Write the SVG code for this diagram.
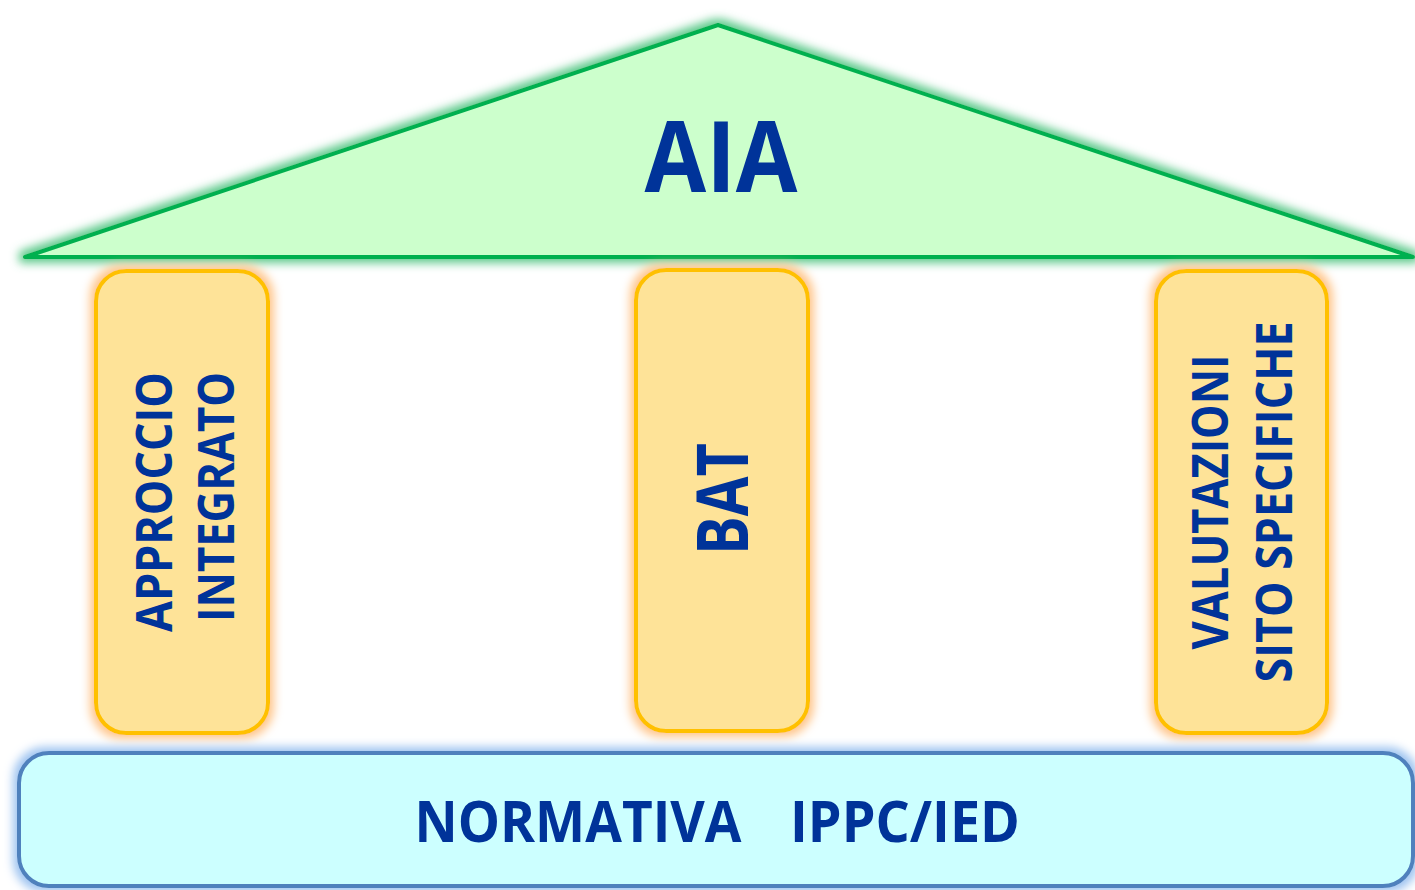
<svg xmlns="http://www.w3.org/2000/svg" width="1415" height="890" viewBox="0 0 1415 890">
<defs>
<filter id="glowG" x="-10%" y="-20%" width="120%" height="140%">
<feMorphology in="SourceAlpha" operator="dilate" radius="4" result="d"/>
<feGaussianBlur in="d" stdDeviation="5" result="b"/>
<feFlood flood-color="#5CC98A" flood-opacity="1"/>
<feComposite in2="b" operator="in" result="g"/>
<feMerge><feMergeNode in="g"/><feMergeNode in="SourceGraphic"/></feMerge>
</filter>
<filter id="glowO" x="-20%" y="-10%" width="140%" height="120%">
<feMorphology in="SourceAlpha" operator="dilate" radius="4" result="d"/>
<feGaussianBlur in="d" stdDeviation="5" result="b"/>
<feFlood flood-color="#FFC58A" flood-opacity="1"/>
<feComposite in2="b" operator="in" result="g"/>
<feMerge><feMergeNode in="g"/><feMergeNode in="SourceGraphic"/></feMerge>
</filter>
<filter id="glowB" x="-5%" y="-20%" width="110%" height="140%">
<feMorphology in="SourceAlpha" operator="dilate" radius="4" result="d"/>
<feGaussianBlur in="d" stdDeviation="5" result="b"/>
<feFlood flood-color="#9DC3F0" flood-opacity="1"/>
<feComposite in2="b" operator="in" result="g"/>
<feMerge><feMergeNode in="g"/><feMergeNode in="SourceGraphic"/></feMerge>
</filter>
</defs>
<style>
.t{font-family:"Open Sans","Liberation Sans",sans-serif;font-weight:bold;fill:#003399;text-anchor:middle}
.pillar{fill:#FEE398;stroke:#FFC000;stroke-width:4}
</style>
<rect width="1415" height="890" fill="#FFFFFF"/>
<g id="roof">
<polygon points="718,25 25,257 1413,257" fill="#CCFFCC" stroke="#00B050" stroke-width="4" stroke-linejoin="round" filter="url(#glowG)"/>
<text class="t" x="721" y="192" font-size="98" textLength="153" lengthAdjust="spacingAndGlyphs">AIA</text>
</g>
<g id="pillar-left">
<rect class="pillar" x="96" y="271" width="172" height="462" rx="30" filter="url(#glowO)"/>
<text class="t" transform="translate(172,502) rotate(-90)" font-size="50" textLength="260" lengthAdjust="spacingAndGlyphs">APPROCCIO</text>
<text class="t" transform="translate(234,497) rotate(-90)" font-size="50" textLength="250" lengthAdjust="spacingAndGlyphs">INTEGRATO</text>
</g>
<g id="pillar-center">
<rect class="pillar" x="636" y="270" width="172" height="461" rx="30" filter="url(#glowO)"/>
<text class="t" transform="translate(748,499) rotate(-90)" font-size="72" textLength="112" lengthAdjust="spacingAndGlyphs">BAT</text>
</g>
<g id="pillar-right">
<rect class="pillar" x="1156" y="271" width="171" height="462" rx="30" filter="url(#glowO)"/>
<text class="t" transform="translate(1228,502) rotate(-90)" font-size="50" textLength="295" lengthAdjust="spacingAndGlyphs">VALUTAZIONI</text>
<text class="t" transform="translate(1292,502) rotate(-90)" font-size="50" textLength="361" lengthAdjust="spacingAndGlyphs">SITO SPECIFICHE</text>
</g>
<g id="base">
<rect x="19" y="753" width="1394" height="133" rx="30" fill="#CCFFFF" stroke="#4F81BD" stroke-width="4" filter="url(#glowB)"/>
<text class="t" x="578" y="842" font-size="58" textLength="327" lengthAdjust="spacingAndGlyphs">NORMATIVA</text>
<text class="t" x="905" y="842" font-size="58" textLength="230" lengthAdjust="spacingAndGlyphs">IPPC/IED</text>
</g>
<g id="connectors"/>
</svg>
